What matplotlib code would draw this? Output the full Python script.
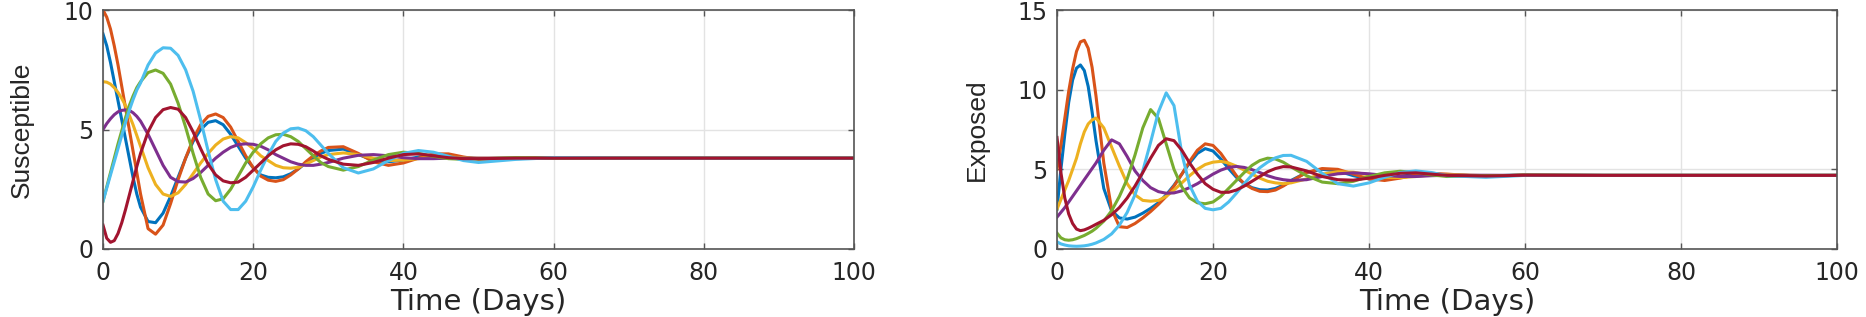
import numpy as np
import matplotlib
matplotlib.use("Agg")
import matplotlib.pyplot as plt

# shared time grid (days)
t = [0, 0.5, 1, 1.5, 2, 2.5, 3, 3.5, 4, 4.5, 5,
     6, 7, 8, 9, 10, 11, 12, 13, 14, 15, 16, 17, 18, 19, 20,
     21, 22, 23, 24, 25, 26, 27, 28, 29, 30,
     32, 34, 36, 38, 40, 42, 44, 46, 48, 50,
     55, 60, 70, 80, 90, 100]

# Susceptible
s_blue = [9.0, 8.5, 7.8, 7.0, 6.2, 5.4, 4.6, 3.8, 3.0, 2.3, 1.75,
          1.15, 1.1, 1.5, 2.2, 3.0, 3.8, 4.5, 5.0, 5.3, 5.37, 5.2, 4.8, 4.3, 3.8, 3.4,
          3.1, 3.0, 2.98, 3.02, 3.15, 3.35, 3.6, 3.8, 4.0, 4.12,
          4.18, 3.95, 3.72, 3.65, 3.72, 3.85, 3.9, 3.88, 3.82, 3.78,
          3.8, 3.82, 3.8, 3.8, 3.8, 3.8]
s_orange = [10.0, 9.7, 9.2, 8.5, 7.7, 6.8, 5.9, 5.0, 4.1, 3.2, 2.3,
            0.85, 0.62, 1.0, 1.9, 2.9, 3.8, 4.6, 5.2, 5.55, 5.65, 5.5, 5.1, 4.5, 3.9, 3.4,
            3.05, 2.88, 2.83, 2.9, 3.1, 3.35, 3.65, 3.9, 4.1, 4.25,
            4.28, 4.0, 3.65, 3.5, 3.6, 3.8, 3.98, 3.98, 3.85, 3.75,
            3.78, 3.82, 3.8, 3.8, 3.8, 3.8]
s_yellow = [7.0, 6.98, 6.9, 6.75, 6.55, 6.3, 6.0, 5.6, 5.2, 4.75, 4.3,
            3.4, 2.7, 2.3, 2.2, 2.35, 2.7, 3.15, 3.6, 4.0, 4.35, 4.6, 4.7, 4.65, 4.45, 4.2,
            3.9, 3.7, 3.5, 3.4, 3.38, 3.42, 3.55, 3.7, 3.85, 3.95,
            4.02, 3.95, 3.8, 3.7, 3.72, 3.78, 3.85, 3.85, 3.82, 3.8,
            3.8, 3.8, 3.8, 3.8, 3.8, 3.8]
s_purple = [5.0, 5.25, 5.45, 5.62, 5.74, 5.8, 5.82, 5.8, 5.7, 5.55, 5.35,
            4.8, 4.15, 3.5, 3.0, 2.82, 2.8, 2.95, 3.2, 3.5, 3.8, 4.05, 4.25, 4.37, 4.4, 4.38,
            4.3, 4.15, 3.95, 3.8, 3.65, 3.55, 3.5, 3.5, 3.55, 3.62,
            3.8, 3.92, 3.95, 3.9, 3.82, 3.78, 3.78, 3.8, 3.8, 3.8,
            3.8, 3.8, 3.8, 3.8, 3.8, 3.8]
s_green = [2.0, 2.6, 3.2, 3.8, 4.4, 4.95, 5.5, 6.0, 6.4, 6.75, 7.0,
           7.38, 7.49, 7.35, 6.9, 6.1, 5.1, 4.0, 3.0, 2.3, 2.02, 2.1, 2.5, 3.05, 3.6, 4.05,
           4.4, 4.65, 4.78, 4.8, 4.7, 4.5, 4.2, 3.9, 3.62, 3.45,
           3.3, 3.45, 3.72, 3.95, 4.05, 4.0, 3.88, 3.78, 3.75, 3.77,
           3.82, 3.8, 3.8, 3.8, 3.8, 3.8]
s_cyan = [2.0, 2.55, 3.1, 3.65, 4.2, 4.75, 5.3, 5.8, 6.25, 6.65, 6.95,
          7.7, 8.2, 8.42, 8.4, 8.1, 7.5, 6.6, 5.4, 4.1, 2.9, 2.0, 1.65, 1.65, 2.0, 2.6,
          3.3, 3.95, 4.5, 4.85, 5.03, 5.06, 4.95, 4.7, 4.35, 4.0,
          3.4, 3.18, 3.35, 3.7, 4.0, 4.12, 4.05, 3.88, 3.7, 3.62,
          3.75, 3.82, 3.8, 3.8, 3.8, 3.8]
s_red = [1.0, 0.45, 0.28, 0.35, 0.65, 1.1, 1.65, 2.25, 2.85, 3.45, 4.0,
         4.9, 5.5, 5.83, 5.92, 5.85, 5.5, 4.9, 4.2, 3.55, 3.1, 2.85, 2.77, 2.8, 3.0, 3.3,
         3.6, 3.9, 4.15, 4.32, 4.4, 4.38, 4.28, 4.1, 3.9, 3.75,
         3.55, 3.5, 3.62, 3.8, 3.95, 3.98, 3.9, 3.82, 3.78, 3.78,
         3.8, 3.8, 3.8, 3.8, 3.8, 3.8]

# Exposed
e_blue = [2.5, 5.0, 7.2, 9.2, 10.6, 11.35, 11.55, 11.2, 10.2, 8.6, 6.8,
          3.8, 2.4, 1.95, 1.88, 2.0, 2.25, 2.55, 2.9, 3.4, 4.0, 4.7, 5.4, 6.0, 6.3, 6.15,
          5.65, 5.05, 4.5, 4.1, 3.85, 3.72, 3.7, 3.8, 4.0, 4.3,
          4.8, 5.0, 4.9, 4.6, 4.4, 4.4, 4.55, 4.7, 4.72, 4.65,
          4.58, 4.65, 4.62, 4.62, 4.62, 4.62]
e_orange = [5.0, 6.5, 8.2, 9.9, 11.3, 12.4, 13.0, 13.1, 12.6, 11.4, 9.6,
            5.4, 2.5, 1.4, 1.35, 1.6, 1.95, 2.35, 2.8, 3.3, 3.95, 4.7, 5.5, 6.2, 6.6, 6.5,
            6.0, 5.3, 4.6, 4.1, 3.8, 3.62, 3.6, 3.7, 3.95, 4.25,
            4.8, 5.05, 5.0, 4.7, 4.4, 4.3, 4.45, 4.65, 4.75, 4.7,
            4.55, 4.65, 4.62, 4.62, 4.62, 4.62]
e_yellow = [2.5, 3.1, 3.7, 4.3, 5.0, 5.7, 6.6, 7.35, 7.85, 8.1, 8.22,
            7.6, 6.4, 5.2, 4.1, 3.4, 3.05, 3.0, 3.05, 3.3, 3.7, 4.15, 4.6, 5.0, 5.3, 5.45,
            5.5, 5.4, 5.2, 4.95, 4.7, 4.45, 4.25, 4.15, 4.1, 4.15,
            4.4, 4.7, 4.85, 4.82, 4.65, 4.5, 4.48, 4.55, 4.65, 4.68,
            4.6, 4.62, 4.62, 4.62, 4.62, 4.62]
e_purple = [2.0, 2.3, 2.6, 2.95, 3.3, 3.65, 4.0, 4.35, 4.7, 5.05, 5.4,
            6.2, 6.85, 6.6, 5.8, 4.9, 4.3, 3.85, 3.6, 3.5, 3.52, 3.65, 3.85, 4.1, 4.4, 4.7,
            4.95, 5.12, 5.18, 5.12, 4.98, 4.8, 4.6, 4.45, 4.35, 4.3,
            4.35, 4.55, 4.72, 4.78, 4.72, 4.62, 4.55, 4.55, 4.6, 4.63,
            4.63, 4.62, 4.62, 4.62, 4.62, 4.62]
e_green = [1.0, 0.7, 0.58, 0.55, 0.58, 0.65, 0.75, 0.85, 0.98, 1.12, 1.3,
           1.75, 2.4, 3.3, 4.4, 5.9, 7.6, 8.75, 8.2, 6.6, 5.0, 3.9, 3.2, 2.9, 2.84, 2.95,
           3.3, 3.8, 4.3, 4.8, 5.25, 5.55, 5.7, 5.65, 5.45, 5.15,
           4.6, 4.2, 4.1, 4.25, 4.55, 4.78, 4.88, 4.8, 4.65, 4.55,
           4.6, 4.63, 4.62, 4.62, 4.62, 4.62]
e_cyan = [0.45, 0.32, 0.25, 0.2, 0.18, 0.17, 0.18, 0.2, 0.24, 0.3, 0.38,
          0.6, 0.95, 1.5, 2.3, 3.4, 4.9, 6.7, 8.6, 9.8, 9.0, 6.0, 4.0, 3.0, 2.55, 2.46,
          2.55, 2.95, 3.5, 4.1, 4.65, 5.1, 5.45, 5.72, 5.87, 5.88,
          5.5, 4.75, 4.1, 3.95, 4.15, 4.5, 4.8, 4.9, 4.8, 4.6,
          4.5, 4.62, 4.62, 4.62, 4.62, 4.62]
e_red = [7.0, 4.8, 3.2, 2.2, 1.6, 1.25, 1.15, 1.2, 1.3, 1.42, 1.55,
         1.8, 2.15, 2.6, 3.2, 3.95, 4.8, 5.7, 6.5, 6.92, 6.8, 6.2, 5.4, 4.7, 4.1, 3.75,
         3.56, 3.56, 3.7, 3.95, 4.25, 4.55, 4.85, 5.05, 5.17, 5.15,
         4.9, 4.55, 4.35, 4.32, 4.45, 4.62, 4.75, 4.78, 4.7, 4.62,
         4.58, 4.63, 4.62, 4.62, 4.62, 4.62]

colors = ['#0072BD', '#D95319', '#EDB120', '#7E2F8E', '#77AC30', '#4DBEEE', '#A2142F']
txt = '#262626'

fig = plt.figure(figsize=(18.66, 3.17), dpi=100)
ax1 = fig.add_axes([103 / 1866, 1 - 249 / 317, 751 / 1866, 239 / 317])
ax2 = fig.add_axes([1057 / 1866, 1 - 249 / 317, 780 / 1866, 239 / 317])

panels = [
    (ax1, [s_blue, s_orange, s_yellow, s_purple, s_green, s_cyan, s_red], 'Susceptible', [0, 10], [0, 5, 10]),
    (ax2, [e_blue, e_orange, e_yellow, e_purple, e_green, e_cyan, e_red], 'Exposed', [0, 15], [0, 5, 10, 15]),
]

for ax, series, ylab, ylim, yticks in panels:
    for y, c in zip(series, colors):
        ax.plot(t, y, color=c, lw=2.2, solid_joinstyle='round')
    ax.set_xlim(0, 100)
    ax.set_ylim(*ylim)
    ax.set_xticks([0, 20, 40, 60, 80, 100])
    ax.set_yticks(yticks)
    ax.grid(True, color='#e3e3e3', lw=1.0)
    ax.set_axisbelow(True)
    for sp in ax.spines.values():
        sp.set_color('#555555')
        sp.set_linewidth(1.2)
    ax.tick_params(direction='in', top=True, right=True, length=4, width=1.0,
                   color='#555555', labelsize=17, labelcolor=txt)
    ax.tick_params(axis='x', pad=9)
    ax.tick_params(axis='y', pad=7)
    ax.set_xlabel('Time (Days)', fontsize=21, color=txt)
    ax.xaxis.set_label_coords(0.5, -0.165)
    ax.set_ylabel(ylab, fontsize=19, color=txt, family='Liberation Sans')

ax1.yaxis.set_label_coords(-0.092, 0.5)
ax2.yaxis.set_label_coords(-0.087, 0.5)

fig.savefig('out.png', dpi=100)
